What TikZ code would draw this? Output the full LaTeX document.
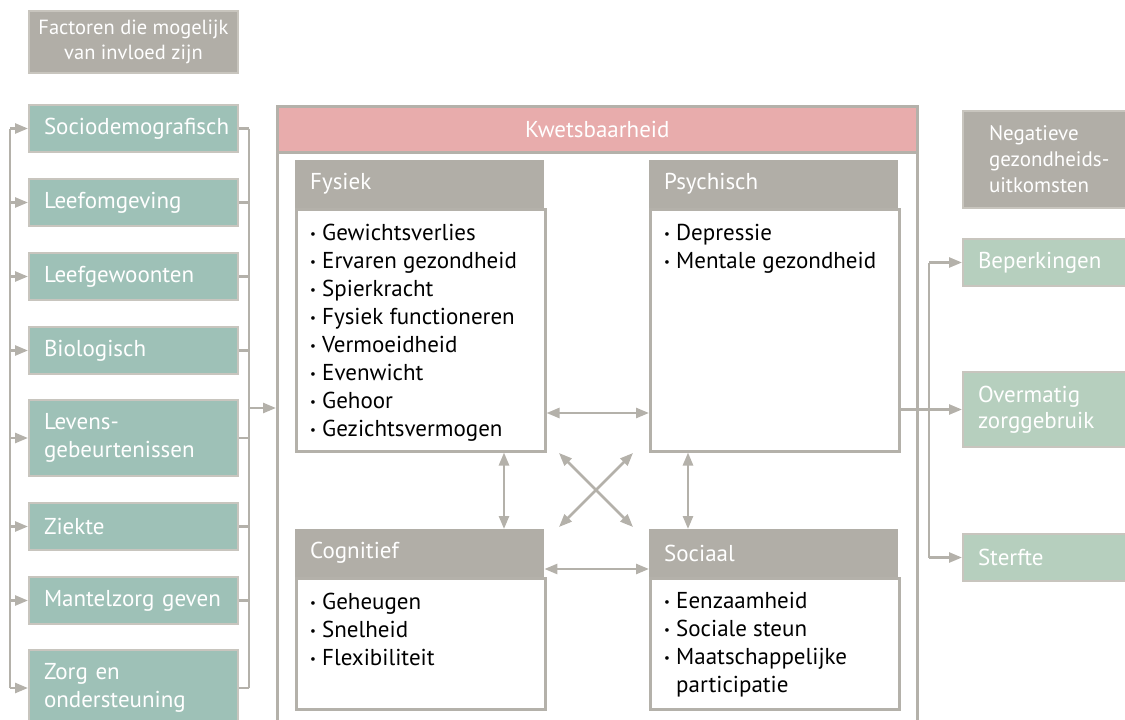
\documentclass[tikz,border=0pt]{standalone}
\usepackage{fontspec}
\setmainfont{PT Sans}
\usetikzlibrary{arrows.meta}

\definecolor{hdrgray}{HTML}{B1AEA7}
\definecolor{linegray}{HTML}{B4B1AA}
\definecolor{edgegray}{HTML}{C8C5BE}
\definecolor{factgreen}{HTML}{9EC1B7}
\definecolor{outgreen}{HTML}{B6CFBE}
\definecolor{vulnpink}{HTML}{E8ACAC}

\newcommand\bodyfnt{\fontsize{23}{28}\selectfont}
\newcommand\titlefnt{\fontsize{20.5}{25}\selectfont}
\newcommand\negfnt{\fontsize{21}{26}\selectfont}
% small bullet followed by a short gap
\newcommand\bul{\makebox[12pt][l]{\raisebox{2pt}{\fontsize{13}{13}\selectfont•}}}
% list whose reference point is the baseline of its first line
\newcommand\itemlist[1]{\parbox[t]{230pt}{\bodyfnt\raggedright #1}}

\tikzset{
  conn/.style={draw=linegray, line width=2.6pt},
  arr/.style={conn, -{Triangle[length=13pt,width=10pt]}},
  biarr/.style={conn, {Triangle[length=13pt,width=10pt]}-{Triangle[length=13pt,width=10pt]}},
  factor/.style={anchor=north west, draw=edgegray, line width=2pt, fill=factgreen,
    text=white, inner xsep=15pt, inner ysep=0pt, text width=179pt, align=left,
    font=\bodyfnt, minimum height=47pt},
  outcome/.style={factor, fill=outgreen, text width=145pt},
  titlebox/.style={anchor=north west, draw=edgegray, line width=2pt, fill=hdrgray,
    text=white, inner sep=0pt},
  hdr/.style={anchor=north west, fill=hdrgray, text=white, inner xsep=15pt,
    inner ysep=0pt, text width=219pt, align=left, font=\bodyfnt, minimum height=48pt},
  cbox/.style={anchor=north west, draw=linegray, line width=2.5pt, fill=white,
    minimum width=249pt, inner sep=0pt},
  items/.style={anchor=base west, inner sep=0pt},
}

\begin{document}
\begin{tikzpicture}[x=1pt,y=-1pt]
\useasboundingbox (0,0) rectangle (1125,720);
\clip (0,0) rectangle (1125,720);

% influencing factors
\node[titlebox, minimum width=209pt, minimum height=62pt, align=center, font=\titlefnt]
  (facT) at (28,10) {Factoren die mogelijk\\van invloed zijn};
\node[factor] (f1) at (28,104) {Sociodemografisch};
\node[factor] (f2) at (28,178) {Leefomgeving};
\node[factor] (f3) at (28,252) {Leefgewoonten};
\node[factor] (f4) at (28,326) {Biologisch};
\node[factor, minimum height=76pt] (f5) at (28,399) {Levens-\\gebeurtenissen};
\node[factor] (f6) at (28,502) {Ziekte};
\node[factor] (f7) at (28,576) {Mantelzorg geven};
\node[factor, minimum height=76pt] (f8) at (28,649) {Zorg en\\ondersteuning};

% vulnerability frame
\node[anchor=north west, draw=linegray, line width=3pt, minimum width=640pt,
  minimum height=640pt, inner sep=0pt] (kwbox) at (276,105) {};
\node[anchor=north west, fill=vulnpink, draw=linegray, line width=2.5pt,
  minimum width=640pt, minimum height=46pt, inner sep=0pt, text=white,
  font=\bodyfnt] (kw) at (276,105) {Kwetsbaarheid};

% domains
\node[cbox, minimum height=242pt] (fysC) at (295,208) {};
\node[hdr] (fysH) at (295,160) {Fysiek};
\node[cbox, minimum height=242pt] (psyC) at (649,208) {};
\node[hdr] (psyH) at (649,160) {Psychisch};
\node[cbox, minimum height=131pt] (cogC) at (295,577) {};
\node[hdr] (cogH) at (295,529) {Cognitief};
\node[cbox, minimum height=131pt] (socC) at (649,577) {};
\node[hdr] (socH) at (649,529) {Sociaal};

\node[items] (fysT) at (310,240) {\itemlist{\bul Gewichtsverlies\\\bul Ervaren gezondheid\\
  \bul Spierkracht\\\bul Fysiek functioneren\\\bul Vermoeidheid\\\bul Evenwicht\\
  \bul Gehoor\\\bul Gezichtsvermogen}};
\node[items] (psyT) at (664,240) {\itemlist{\bul Depressie\\\bul Mentale gezondheid}};
\node[items] (cogT) at (310,609) {\itemlist{\bul Geheugen\\\bul Snelheid\\\bul Flexibiliteit}};
\node[items] (socT) at (664,608) {\itemlist{\bul Eenzaamheid\\\bul Sociale steun\\
  \bul Maatschappelijke\\\hspace*{12pt}participatie}};

% outcomes
\node[titlebox, minimum width=175pt, minimum height=97pt, align=left, text width=130pt,
  inner xsep=26pt, font=\negfnt] (negT) at (962,110)
  {Negatieve\\gezondheids-\\uitkomsten};
\node[outcome] (o1) at (962,238) {Beperkingen};
\node[outcome, minimum height=75pt, font=\fontsize{23}{26}\selectfont] (o2) at (962,371)
  {Overmatig\\zorggebruik};
\node[outcome] (o3) at (962,533) {Sterfte};

% feedback loop on the left
\coordinate (lt) at ([xshift=-18pt]f1.west);
\draw[conn] (lt) -- (lt |- f8.west);
\foreach \i in {1,...,8} \draw[arr] (lt |- f\i.west) -- (f\i.west);

% collector into the frame
\coordinate (rt) at ([xshift=10pt]f1.east);
\coordinate (inrow) at (0,408);
\foreach \i in {1,...,8} \draw[conn] (f\i.east) -- (rt |- f\i.east);
\draw[conn] (rt) -- (rt |- f8.east);
\draw[arr] (rt |- inrow) -- (kwbox.west |- inrow);

% links between domains
\coordinate (toprow) at (0,413);
\coordinate (botrow) at (0,569);
\coordinate (lcol) at (504,0);
\coordinate (rcol) at (688,0);
\draw[biarr] (fysC.east |- toprow) -- (psyC.west |- toprow);
\draw[biarr] (cogH.east |- botrow) -- (socH.west |- botrow);
\draw[biarr] (lcol |- fysC.south) -- (lcol |- cogH.north);
\draw[biarr] (rcol |- psyC.south) -- (rcol |- socH.north);
\coordinate (xa) at (559,453);
\coordinate (xb) at (633,527);
\coordinate (xc) at (633,453);
\coordinate (xd) at (559,527);
\draw[biarr] (xa) -- (xb);
\draw[biarr] (xc) -- (xd);

% outcome branching
\coordinate (jn) at (929,0);
\draw[arr] (psyC.east |- o2.west) -- (o2.west);
\draw[conn] (jn |- o1.west) -- (jn |- o3.west);
\draw[arr] (jn |- o1.west) -- (o1.west);
\draw[arr] (jn |- o3.west) -- (o3.west);
\end{tikzpicture}
\end{document}
